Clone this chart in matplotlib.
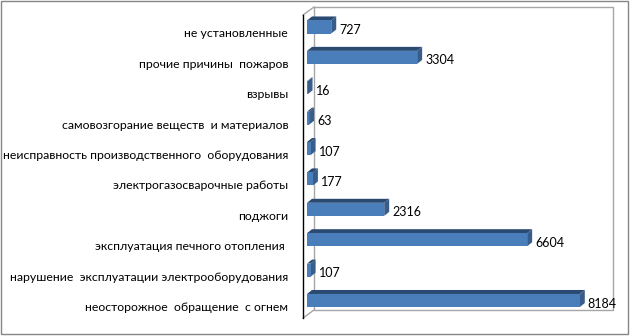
import matplotlib.pyplot as plt
from matplotlib.lines import Line2D
from matplotlib.patches import Polygon, Rectangle
from matplotlib.transforms import ScaledTranslation

# categories, bottom to top
causes = [
    'неосторожное  обращение  с огнем',
    'нарушение  эксплуатации электрооборудования',
    'эксплуатация печного отопления ',
    'поджоги',
    'электрогазосварочные работы',
    'неисправность производственного  оборудования',
    'самовозгорание веществ  и материалов',
    'взрывы',
    'прочие причины  пожаров',
    'не установленные',
]
fires = [8184, 107, 6604, 2316, 177, 107, 63, 16, 3304, 727]

W, H = 630, 336
front_col = '#4a7ebb'
top_col = '#2a4a72'
side_col = '#385d8a'

plt.rcParams['font.family'] = ['Lato', 'DejaVu Sans']

fig = plt.figure(figsize=(W / 100, H / 100), dpi=100)


def fx(x):
    return x / W


def fy(y):
    return 1 - y / H


# outer frame
fig.add_artist(Rectangle((fx(0.5), fy(333.5)), fx(627), 333 / H, fill=False,
                         edgecolor='#868686', lw=1, transform=fig.transFigure))

# back wall and floor/side edges
wall = '#a6a6a6'
for xs, ys in [([314, 613, 613, 314, 314], [7, 7, 310, 310, 7]),
               ([303, 314], [15, 7]), ([303, 314], [318, 310])]:
    fig.add_artist(Line2D([fx(v) for v in xs], [fy(v) for v in ys], color=wall,
                          lw=1, transform=fig.transFigure, zorder=-1))
fig.add_artist(Line2D([fx(303), fx(303)], [fy(15), fy(318)], color='black',
                      lw=1, transform=fig.transFigure, zorder=-1))

ax = fig.add_axes([fx(307), 20.3 / H, 300 / W, 303.9 / H])
ax.patch.set_visible(False)
ax.set_xlim(0, 9000)
ax.set_ylim(-0.5, 9.5)
for s in ax.spines.values():
    s.set_visible(False)

ypos = list(range(len(causes)))
bh = 0.43
ax.barh(ypos, fires, height=bh, color=front_col, zorder=3)

# depth of the 3d faces, pixels -> data units
px_x = 9000 / 300
px_y = 10 / 303.9
dx, dy = 5 * px_x, 4 * px_y
for y, v in zip(ypos, fires):
    t = y + bh / 2
    b = y - bh / 2
    ax.add_patch(Polygon([(0, t), (v, t), (v + dx, t + dy), (dx, t + dy)],
                         closed=True, facecolor=top_col, edgecolor='none', zorder=2))
    ax.add_patch(Polygon([(v, b), (v + dx, b + dy), (v + dx, t + dy), (v, t)],
                         closed=True, facecolor=side_col, edgecolor='none', zorder=2))
    ax.annotate(str(v), (v + dx, y), xytext=(3, -3), textcoords='offset pixels',
                ha='left', va='center', fontsize=9, color='black')

ax.set_xticks([])
ax.set_yticks(ypos)
ax.set_yticklabels(causes, fontsize=8.8)
ax.tick_params(axis='y', length=0, pad=13.5)
for lbl in ax.get_yticklabels():
    lbl.set_transform(lbl.get_transform() + ScaledTranslation(0, -6 / 100, fig.dpi_scale_trans))

fig.savefig('out.png', dpi=100)
